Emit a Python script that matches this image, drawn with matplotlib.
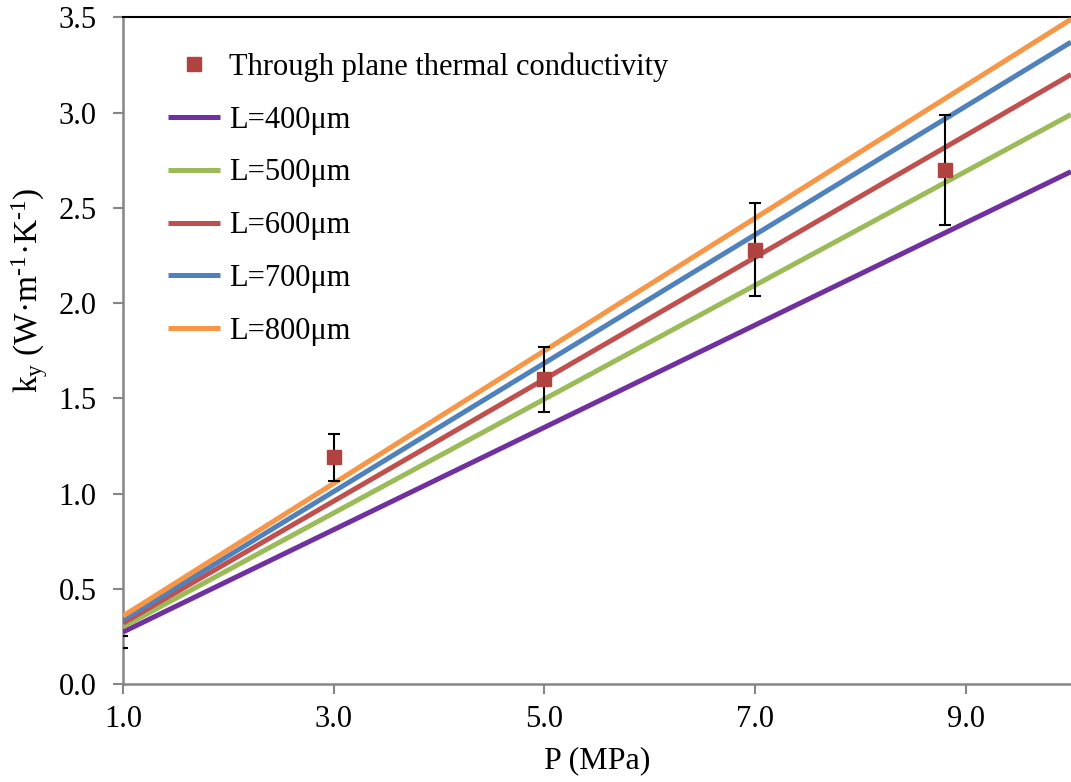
import matplotlib
matplotlib.use('Agg')
import matplotlib.pyplot as plt

plt.rcParams['font.family'] = ['Liberation Serif', 'DejaVu Serif']
plt.rcParams['mathtext.fontset'] = 'custom'
plt.rcParams['mathtext.rm'] = 'Liberation Serif'
plt.rcParams['mathtext.it'] = 'Liberation Serif:italic'

# measured through-plane conductivity
p_meas = [0.99, 3.0, 5.0, 7.0, 8.8]
k_meas = [0.22, 1.19, 1.60, 2.28, 2.70]
k_err = [0.03, 0.125, 0.17, 0.245, 0.29]

# model lines, value at P=1 and P=10
p_line = [1.0, 10.0]
labels = ['L=400μm', 'L=500μm', 'L=600μm', 'L=700μm', 'L=800μm']
k_lines = [
    [0.273, 2.69],
    [0.300, 2.99],
    [0.320, 3.20],
    [0.336, 3.37],
    [0.357, 3.49],
]
colors = ['#7030A0', '#9BBB59', '#C0504D', '#4F81BD', '#F79646']

fig = plt.figure(figsize=(10.71, 7.82), dpi=100)
ax = fig.add_axes([0.1148, 0.1253, 0.8852, 0.8525])

ax.errorbar(p_meas, k_meas, yerr=k_err, fmt='none', ecolor='black',
            elinewidth=1.5, capsize=4.5, capthick=1.5, zorder=4)
# the point at the axis edge shows no marker in the original
px = [p for p in p_meas if p >= 1.0]
ky = [k for p, k in zip(p_meas, k_meas) if p >= 1.0]
ax.plot(px, ky, 's', color='#B0433F', markersize=10, linestyle='none',
        label='Through plane thermal conductivity', zorder=5)

for lab, kl, c in zip(labels, k_lines, colors):
    ax.plot(p_line, kl, color=c, linewidth=3.6, label=lab, zorder=3,
            solid_capstyle='butt')

ax.set_xlim(1.0, 10.0)
ax.set_ylim(0.0, 3.5)
ax.set_xticks([1.0, 3.0, 5.0, 7.0, 9.0])
ax.set_xticklabels(['1.0', '3.0', '5.0', '7.0', '9.0'])
ax.set_yticks([0.0, 0.5, 1.0, 1.5, 2.0, 2.5, 3.0, 3.5])
ax.set_yticklabels(['0.0', '0.5', '1.0', '1.5', '2.0', '2.5', '3.0', '3.5'])
ax.tick_params(axis='both', labelsize=22, colors='black', direction='out',
               length=7, width=1.5)
ax.tick_params(axis='both', color='#868686')
ax.tick_params(axis='y', pad=12)
ax.tick_params(axis='x', pad=8)

for s in ['left', 'bottom']:
    ax.spines[s].set_color('#868686')
    ax.spines[s].set_linewidth(1.8)
ax.spines['top'].set_color('black')
ax.spines['top'].set_linewidth(1.5)
ax.spines['right'].set_visible(False)

ax.set_xlabel('P (MPa)', fontsize=23, labelpad=9)
ax.set_ylabel('k$_\\mathrm{y}$ (W·m$^\\mathrm{\u20101}$·K$^\\mathrm{\u20101}$)', fontsize=24)
ax.yaxis.set_label_coords(-0.077, 0.59)

ax.legend(loc='upper left', frameon=False, fontsize=22, handlelength=1.7,
          handletextpad=0.3, labelspacing=0.78, borderaxespad=0,
          bbox_to_anchor=(0.035, 0.966))

fig.savefig('out.png', dpi=100)
